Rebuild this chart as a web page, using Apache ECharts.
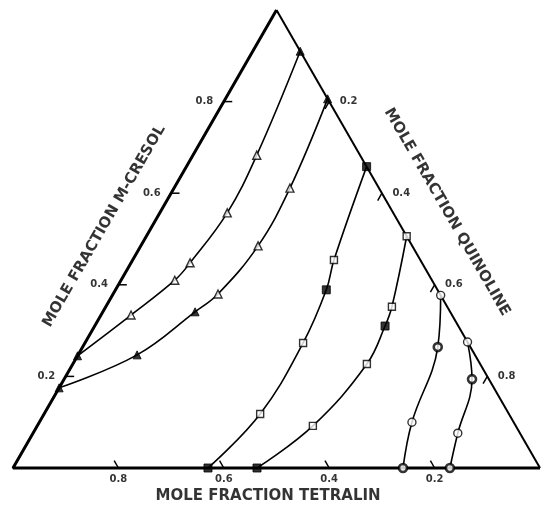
<!DOCTYPE html>
<html>
<head>
<meta charset="UTF-8">
<title>ternary</title>
<script src="https://cdn.jsdelivr.net/npm/echarts@6/dist/echarts.min.js"></script>
</head>
<body style="margin:0">
<div id="charts" style="width:541px;height:507px"></div>
<script type="text/javascript">
// every point is [quinoline, m-cresol]; tetralin = 1 - quinoline - m-cresol
var curveA=[[0,0.245],[0.057,0.334],[0.102,0.41],[0.112,0.448],[0.128,0.557],[0.121,0.683],[0.09,0.91]];
var curveB=[[0,0.175],[0.112,0.247],[0.175,0.341],[0.199,0.38],[0.2225,0.485],[0.22,0.611],[0.194,0.806]];
var curveC=[[0.37,0],[0.41,0.118],[0.414,0.273],[0.40,0.389],[0.382,0.454],[0.342,0.658]];
var curveD=[[0.463,0],[0.523,0.092],[0.558,0.227],[0.551,0.31],[0.543,0.352],[0.494,0.506]];
var curveE=[[0.74,0],[0.707,0.10],[0.674,0.264],[0.623,0.377]];
var curveF=[[0.829,0],[0.806,0.076],[0.774,0.194],[0.725,0.275]];

var openTriangles=[[0.057,0.334],[0.102,0.41],[0.112,0.448],[0.128,0.557],[0.121,0.683],[0.199,0.38],[0.2225,0.485],[0.22,0.611]];
var filledTriangles=[[0,0.245],[0.09,0.91],[0,0.175],[0.112,0.247],[0.175,0.341],[0.194,0.806]];
var openSquares=[[0.41,0.118],[0.414,0.273],[0.382,0.454],[0.523,0.092],[0.558,0.227],[0.543,0.352],[0.494,0.506]];
var filledSquares=[[0.37,0],[0.40,0.389],[0.342,0.658],[0.463,0],[0.551,0.31]];
var openCircles=[[0.707,0.10],[0.623,0.377],[0.806,0.076],[0.725,0.275]];
var boldCircles=[[0.74,0],[0.674,0.264],[0.829,0],[0.774,0.194]];

var tickValues=[0.2,0.4,0.6,0.8];
var tickLabels=['0.2','0.4','0.6','0.8'];
var titleTetralin='MOLE FRACTION TETRALIN';
var titleCresol='MOLE FRACTION M-CRESOL';
var titleQuinoline='MOLE FRACTION QUINOLINE';

// ternary -> plain x,y on the grid
function xy(p){
	return [p[0]+p[1]/2,p[1]];
}

var series=[];
var black='#000';

// triangle frame
series.push({type:'line',data:[xy([0,1]),xy([0,0]),xy([1,0])],symbol:'none',lineStyle:{color:black,width:3}});
series.push({type:'line',data:[xy([0,1]),xy([1,0])],symbol:'none',lineStyle:{color:black,width:2}});

// curves
[curveA,curveB,curveC,curveD,curveE,curveF].forEach(function(c){
	series.push({type:'line',data:c.map(xy),smooth:0.4,symbol:'none',lineStyle:{color:black,width:1.6}});
});

// ticks
var d=0.016;
var bottomLab=[],leftLab=[],rightLab=[];
tickValues.forEach(function(t,i){
	// tetralin on bottom edge
	series.push({type:'line',data:[xy([1-t,0]),xy([1-t-d,d])],symbol:'none',lineStyle:{color:black,width:1.5}});
	bottomLab.push({value:xy([1-t,0]),name:tickLabels[i]});
	// m-cresol on left edge
	series.push({type:'line',data:[xy([0,t]),xy([d,t])],symbol:'none',lineStyle:{color:black,width:1.5}});
	leftLab.push({value:xy([0,t]),name:tickLabels[i]});
	// quinoline on right edge
	series.push({type:'line',data:[xy([t,1-t]),xy([t,1-t-d])],symbol:'none',lineStyle:{color:black,width:1.5}});
	rightLab.push({value:xy([t,1-t]),name:tickLabels[i]});
});

function labelSeries(data,pos,dist){
	return {type:'scatter',data:data,symbolSize:1,itemStyle:{color:'rgba(0,0,0,0)'},
		label:{show:true,position:pos,distance:dist,formatter:'{b}',color:black,
			fontFamily:'DejaVu Sans',fontWeight:'bold',fontSize:10}};
}
series.push(labelSeries(bottomLab,'bottom',6));
series.push(labelSeries(leftLab,'left',10));
series.push(labelSeries(rightLab,'right',10));

// markers
function marks(data,sym,fill,size,bw){
	return {type:'scatter',data:data.map(xy),symbol:sym,symbolSize:size,z:5,
		itemStyle:{color:fill,borderColor:black,borderWidth:bw}};
}
series.push(marks(openTriangles,'triangle','#fff',8,1.4));
series.push(marks(filledTriangles,'triangle',black,8,1));
series.push(marks(openSquares,'rect','#fff',7,1.4));
series.push(marks(filledSquares,'rect',black,8,1));
series.push(marks(openCircles,'circle','#fff',8,1.4));
series.push(marks(boldCircles,'circle','#fff',8,2.6));

// axis titles
function titleSeries(text,pos,rot){
	return {type:'scatter',data:[{value:pos,name:text}],symbolSize:1,itemStyle:{color:'rgba(0,0,0,0)'},
		label:{show:true,position:'inside',formatter:'{b}',rotate:rot,color:black,
			fontFamily:'DejaVu Sans',fontWeight:'bold',fontSize:15}};
}
series.push(titleSeries(titleTetralin,[0.484,-0.061],0));
series.push(titleSeries(titleCresol,[0.173,0.528],60));
series.push(titleSeries(titleQuinoline,[0.8235,0.559],-60));

series.forEach(function(s){s.clip=false;s.silent=true;});

var mychart=echarts.init(document.getElementById('charts'));
var option={
	backgroundColor:'#fff',
	animation:false,
	grid:{left:13,top:10,width:527,height:458},
	xAxis:{type:'value',min:0,max:1,show:false},
	yAxis:{type:'value',min:0,max:1,show:false},
	series:series
};
mychart.setOption(option);
</script>
</body>
</html>
